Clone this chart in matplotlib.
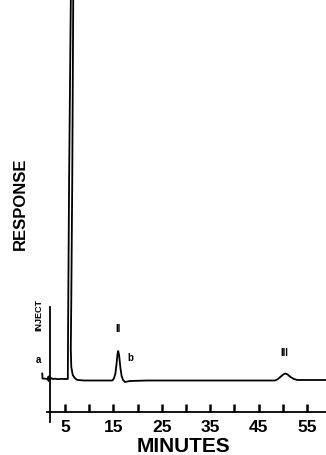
import matplotlib
matplotlib.use("Agg")
import matplotlib.pyplot as plt
import numpy as np

plt.rcParams['font.family'] = ['Liberation Sans', 'DejaVu Sans']

# chromatogram trace (minutes, response units)
t_trace = [0.30, 0.35, 0.9, 1.4, 1.5, 1.6, 1.75, 1.9, 2.1, 2.5, 3.0, 3.6, 4.2, 4.8, 5.3, 5.58,
           5.65, 5.85, 6.20, 6.45, 6.70, 6.50, 6.30, 6.20, 6.30, 6.60, 7.1, 7.6,
           9.0, 12.0, 14.8, 15.1, 15.4, 15.65, 15.85, 16.0, 16.2, 16.45, 16.7, 17.0, 17.4, 17.9,
           18.4, 22.0, 30.0, 40.0, 48.4, 49.0, 49.6, 50.1, 50.5, 51.0, 51.6, 52.3, 53.0, 59.0]
r_trace = [5.5, 0.5, 0.3, 0.0, 2.0, -2.0, 3.0, -1.0, 1.0, 0.0, 0.3, -0.2, 0.2, 0.0, 0.0, 0.0,
           60, 200, 379, 460, 379, 200, 80, 30, 12, 4, 0.5, -1.0,
           -1.5, -1.5, -1.5, 0.5, 5, 15, 25, 28, 23, 11, 3, -1, -3, -2.5,
           -2.0, -1.5, -1.5, -1.5, -1.5, 0.0, 2.5, 4.5, 5.5, 4.5, 2.0, 0.0, -1.0, -1.0]

# inject marker and peak labels
t_inject = 1.85
inject_span = [72, -43]
peak_labels = ['a', 'II', 'b', 'III']
label_t = [-0.5, 15.95, 18.4, 50.3]
label_r = [19, 50, 21, 26]

major_ticks = [5, 15, 25, 35, 45, 55]
minor_ticks = [10, 20, 30, 40, 50]

fig = plt.figure(figsize=(3.26, 4.55), dpi=100)
ax = fig.add_axes([0, 43.3 / 455, 1, 411.7 / 455])

ax.plot(t_trace, r_trace, color='black', lw=1.3, solid_joinstyle='round')
ax.plot([t_inject, t_inject], inject_span, color='black', lw=1.3, clip_on=False)

for lab, tx, ry in zip(peak_labels, label_t, label_r):
    ax.text(tx, ry, lab, ha='center', va='center', fontsize=7, fontweight='bold')
ax.text(-0.5, 64, 'INJECT', rotation=90, ha='center', va='center', fontsize=6.5, fontweight='bold')

ax.set_xlim(-8.43, 58.93)
ax.set_ylim(-32.7, 379)

for s in ['left', 'top', 'right']:
    ax.spines[s].set_visible(False)
ax.spines['bottom'].set_bounds(1.3, 58.93)
ax.spines['bottom'].set_linewidth(1.3)

ax.set_yticks([])
ax.set_xticks(major_ticks)
ax.set_xticks(minor_ticks, minor=True)
ax.tick_params(axis='x', which='both', direction='in', length=6, width=1.8, pad=6)
ax.tick_params(axis='x', labelsize=12.5)
for lb in ax.get_xticklabels():
    lb.set_fontweight('bold')

fig.text(184 / 326, (455 - 447) / 455, 'MINUTES', ha='center', va='center', fontsize=15, fontweight='bold')
fig.text(20 / 326, (455 - 204) / 455, 'RESPONSE', rotation=90, ha='center', va='center', fontsize=12, fontweight='bold')

fig.savefig('out.png', dpi=100, facecolor='white')
